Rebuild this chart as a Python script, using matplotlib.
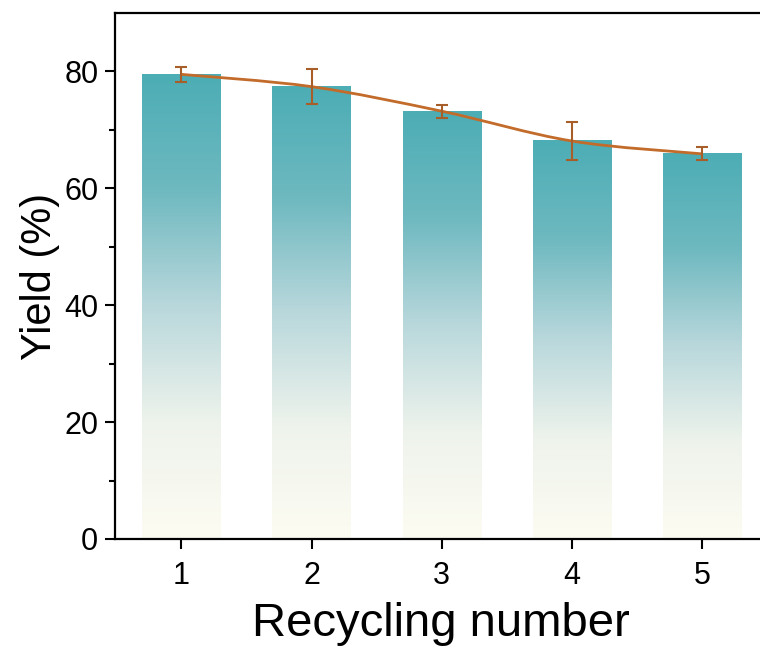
import numpy as np
import matplotlib
matplotlib.use("Agg")
import matplotlib.pyplot as plt
from matplotlib.colors import LinearSegmentedColormap
from matplotlib.path import Path
from matplotlib.patches import PathPatch

plt.rcParams["font.family"] = ["Liberation Sans", "DejaVu Sans"]

cycles = [1, 2, 3, 4, 5]
yield_pct = [79.5, 77.4, 73.2, 68.1, 65.9]
yield_err = [1.3, 3.0, 1.1, 3.3, 1.1]

BAR_W = 0.6
LINE_C = "#C26B2A"
ERR_C = "#A85E29"
grad = LinearSegmentedColormap.from_list(
    "tealfade",
    [(0.0, "#FDFCF2"), (0.25, "#EEF3EC"), (0.5, "#B9D8DC"),
     (0.75, "#6FB9C0"), (1.0, "#4CADB5")])


def smooth_path(xs, ys):
    # Catmull-Rom through the points, as cubic beziers
    pts = np.column_stack([xs, ys]).astype(float)
    ext = np.vstack([pts[0], pts, pts[-1]])
    verts, codes = [tuple(pts[0])], [Path.MOVETO]
    for i in range(1, len(ext) - 2):
        p0, p1, p2, p3 = ext[i - 1], ext[i], ext[i + 1], ext[i + 2]
        c1 = p1 + (p2 - p0) / 6
        c2 = p2 - (p3 - p1) / 6
        verts += [tuple(c1), tuple(c2), tuple(p2)]
        codes += [Path.CURVE4] * 3
    return Path(verts, codes)


fig = plt.figure(figsize=(7.6, 6.51), dpi=100)
ax = fig.add_axes([115 / 760, 112 / 651, 652 / 760, 526 / 651])

g = np.linspace(0, 1, 256).reshape(-1, 1)
for x, h in zip(cycles, yield_pct):
    ax.imshow(g, extent=[x - BAR_W / 2, x + BAR_W / 2, 0, h], origin="lower",
              cmap=grad, aspect="auto", interpolation="bicubic", zorder=1)

ax.add_patch(PathPatch(smooth_path(cycles, yield_pct), fill=False,
                       edgecolor=LINE_C, lw=2.0, zorder=3))
ax.errorbar(cycles, yield_pct, yerr=yield_err, fmt="none", ecolor=ERR_C,
            elinewidth=1.5, capsize=4.5, capthick=1.5, zorder=4)

ax.set_xlim(0.49, 5.5)
ax.set_ylim(0, 90)
ax.set_xticks(cycles)
ax.set_yticks([0, 20, 40, 60, 80])
ax.set_yticks([10, 30, 50, 70], minor=True)
ax.tick_params(axis="both", which="major", direction="out", length=7, width=1.5,
               labelsize=22)
ax.tick_params(axis="y", which="minor", direction="out", length=4, width=1.5)
ax.tick_params(axis="x", pad=9)
ax.tick_params(axis="y", pad=5)
for s in ax.spines.values():
    s.set_linewidth(1.6)

ax.set_xlabel("Recycling number", fontsize=34, labelpad=8)
ax.set_ylabel("Yield (%)", fontsize=30, labelpad=3)

fig.savefig("out.png", dpi=100)
